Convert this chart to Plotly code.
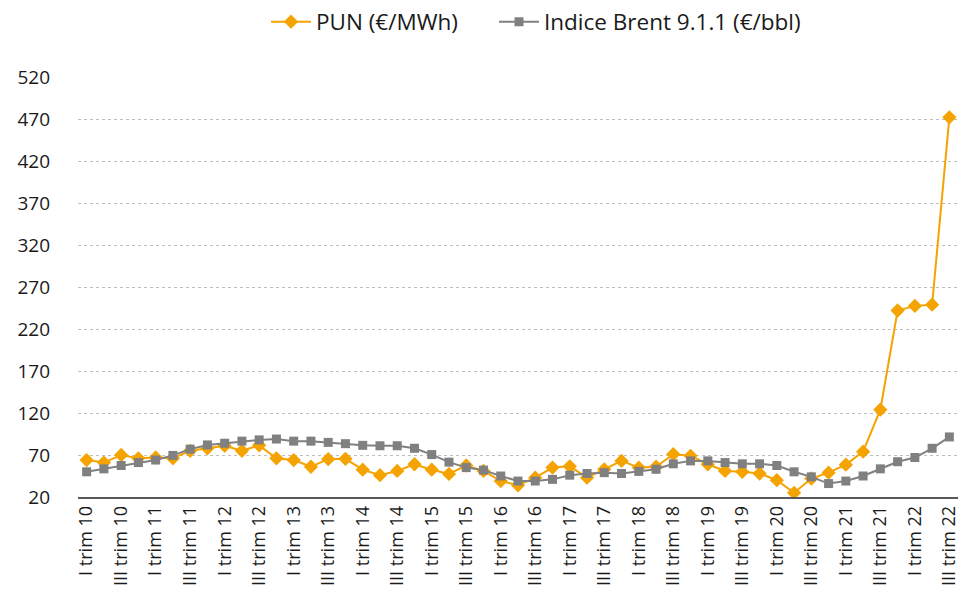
import plotly.graph_objects as go

roman = ["I", "II", "III", "IV"]
categories = []
for yr in range(10, 23):
    for q in roman:
        categories.append(f"{q} trim {yr}")
categories = categories[:51]

tick_labels = [c for c in categories if c.startswith("I trim") or c.startswith("III trim")]

pun = [64, 61, 70, 66, 67, 66, 75, 78, 81, 75, 81.5, 66,
       64, 56, 65, 65.5, 52.5, 46, 51, 59, 52.5, 47.5, 57.5, 51,
       39, 34, 43, 55, 56.5, 43, 53, 63, 55, 56, 71, 69,
       59, 51, 50, 48, 40, 25, 42, 49, 58.5, 74, 124,
       242, 247.5, 249, 472]

brent = [50, 53.5, 57.5, 61, 64, 69.5, 77, 82, 84, 86.5, 88, 89,
         86.5, 86.5, 85, 83.5, 81.5, 81, 81, 78, 70.5, 61.5, 55, 52,
         45, 39, 39, 41, 46, 48, 49, 48, 50.5, 53, 59.5, 63,
         63, 61, 59.5, 59.5, 57.5, 50, 44, 36, 39, 45, 53.5,
         62, 67, 78, 91.5]

y_ticks = [20, 70, 120, 170, 220, 270, 320, 370, 420, 470, 520]

fig = go.Figure()
fig.add_trace(go.Scatter(
    x=categories, y=pun, name="PUN (€/MWh)", mode="lines+markers",
    line=dict(color="#F4A300", width=2),
    marker=dict(symbol="diamond", size=11, color="#F4A300"),
    legend="legend", showlegend=True,
))
fig.add_trace(go.Scatter(
    x=categories, y=brent, name="Indice Brent 9.1.1 (€/bbl)", mode="lines+markers",
    line=dict(color="#808080", width=2),
    marker=dict(symbol="square", size=9, color="#808080"),
    legend="legend2", showlegend=True,
))

leg_common = dict(orientation="h", xref="container", yref="container",
                  xanchor="left", y=0.963, yanchor="middle",
                  font=dict(size=22.5), itemwidth=40, bgcolor="rgba(0,0,0,0)")

fig.update_layout(
    width=961, height=595, showlegend=True,
    margin=dict(l=78, r=3, t=77, b=98, autoexpand=False),
    paper_bgcolor="white", plot_bgcolor="white",
    font=dict(family="Open Sans, Noto Sans, sans-serif", size=17, color="#1a1a1a"),
    legend=dict(x=266 / 961, **leg_common),
    legend2=dict(x=494 / 961, **leg_common),
    xaxis=dict(
        type="category", categoryorder="array", categoryarray=categories,
        tickmode="array", tickvals=tick_labels, ticktext=tick_labels,
        tickangle=-90, range=[-0.5, 50.5], showgrid=False,
        showline=True, linecolor="#595959", linewidth=1.5, ticks="",
        tickfont=dict(size=18),
    ),
    yaxis=dict(
        range=[20, 520], tickmode="array", tickvals=y_ticks,
        showgrid=True, gridcolor="#BFBFBF", griddash="dot", gridwidth=1,
        zeroline=False, showline=False, ticks="", tickfont=dict(size=19),
        ticklabelstandoff=27,
    ),
)

fig.write_html("out.html", config={"displayModeBar": False},
               post_script="document.body.style.margin='0';document.body.style.overflow='hidden';")
